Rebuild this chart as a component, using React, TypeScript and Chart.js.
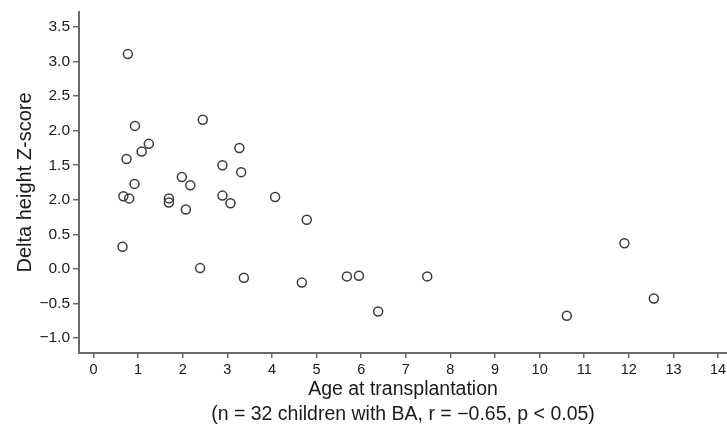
import React, { useEffect, useRef } from "react";
import { Chart, registerables } from "chart.js";

Chart.register(...registerables);

const ageAtTransplant = [
  0.77, 0.93, 1.24, 1.08, 0.74, 0.92, 0.67, 0.8, 0.65, 1.69, 1.69, 1.98, 2.17, 2.07, 2.45, 2.39,
  2.89, 3.27, 3.31, 2.89, 3.07, 3.37, 4.07, 4.78, 4.67, 5.68, 5.95, 6.38, 7.48, 10.61, 11.9, 12.56,
];
const deltaHeightZ = [
  3.11, 2.07, 1.81, 1.7, 1.59, 1.23, 1.05, 1.02, 0.32, 1.02, 0.96, 1.33, 1.21, 0.86, 2.16, 0.01,
  1.5, 1.75, 1.4, 1.06, 0.95, -0.13, 1.04, 0.71, -0.2, -0.11, -0.1, -0.62, -0.11, -0.68, 0.37, -0.43,
];
const xTickValues = [0, 1, 2, 3, 4, 5, 6, 7, 8, 9, 10, 11, 12, 13, 14];
const xTickLabels = ["0", "1", "2", "3", "4", "5", "6", "7", "8", "9", "10", "11", "12", "13", "14"];
const yTickValues = [-1, -0.5, 0, 0.5, 1, 1.5, 2, 2.5, 3, 3.5];
const yTickLabels = ["−1.0", "−0.5", "0.0", "0.5", "2.0", "1.5", "2.0", "2.5", "3.0", "3.5"];
const xTitle = ["Age at transplantation", "(n = 32 children with BA, r = −0.65, p < 0.05)"];
const yTitle = "Delta height Z-score";

const FONT = "'Liberation Sans', Arial, Helvetica, sans-serif";
const AXIS = "#6a6a6a";
const TEXT = "#1a1a1a";

export default function App() {
  const ref = useRef<HTMLCanvasElement | null>(null);

  useEffect(() => {
    document.body.style.margin = "0";
    const canvas = ref.current;
    if (!canvas) return;
    const points = ageAtTransplant.map((x, i) => ({ x, y: deltaHeightZ[i] }));
    const chart = new Chart(canvas, {
      type: "scatter",
      data: {
        datasets: [
          {
            data: points,
            pointRadius: 4.5,
            pointBorderWidth: 1.5,
            pointBorderColor: "#3a3a3a",
            pointBackgroundColor: "rgba(255,255,255,0)",
            showLine: false,
          },
        ],
      },
      options: {
        animation: false,
        responsive: false,
        devicePixelRatio: 1,
        layout: { autoPadding: false, padding: { top: 12, right: 0, bottom: 0, left: 0 } },
        plugins: { legend: { display: false }, tooltip: { enabled: false } },
        scales: {
          x: {
            type: "linear",
            min: -0.325,
            max: 14.2,
            afterBuildTicks: (scale: any) => {
              scale.ticks = xTickValues.map((v) => ({ value: v }));
            },
            afterFit: (scale: any) => {
              scale.height = 77;
              scale.paddingLeft = 0;
              scale.paddingRight = 0;
            },
            ticks: {
              autoSkip: false,
              maxRotation: 0,
              padding: 3,
              color: TEXT,
              font: { family: FONT, size: 14.5 },
              callback: (value: any) => {
                const i = xTickValues.indexOf(Number(value));
                return i >= 0 ? xTickLabels[i] : "";
              },
            },
            grid: { drawOnChartArea: false, drawTicks: true, tickLength: 5, color: AXIS, lineWidth: 1.5 },
            border: { display: true, color: AXIS, width: 2 },
            title: {
              display: true,
              text: xTitle,
              color: TEXT,
              font: { family: FONT, size: 19.5, lineHeight: 1.28 },
              padding: { top: 0, bottom: 3 },
            },
          },
          y: {
            type: "linear",
            min: -1.22,
            max: 3.72,
            afterBuildTicks: (scale: any) => {
              scale.ticks = yTickValues.map((v) => ({ value: v }));
            },
            afterFit: (scale: any) => {
              scale.width = 79;
              scale.paddingTop = 0;
              scale.paddingBottom = 0;
            },
            ticks: {
              autoSkip: false,
              padding: 3,
              color: TEXT,
              font: { family: FONT, size: 15.5 },
              callback: (value: any) => {
                const i = yTickValues.findIndex((v) => Math.abs(v - Number(value)) < 1e-6);
                return i >= 0 ? yTickLabels[i] : "";
              },
            },
            grid: { drawOnChartArea: false, drawTicks: true, tickLength: 6, color: AXIS, lineWidth: 1.5 },
            border: { display: true, color: AXIS, width: 2 },
            title: {
              display: true,
              text: yTitle,
              color: TEXT,
              font: { family: FONT, size: 20, lineHeight: 1.25 },
              padding: { top: 13, bottom: 0 },
            },
          },
        },
      },
    });
    return () => chart.destroy();
  }, []);

  return <canvas ref={ref} width={727} height={430} style={{ display: "block" }} />;
}
